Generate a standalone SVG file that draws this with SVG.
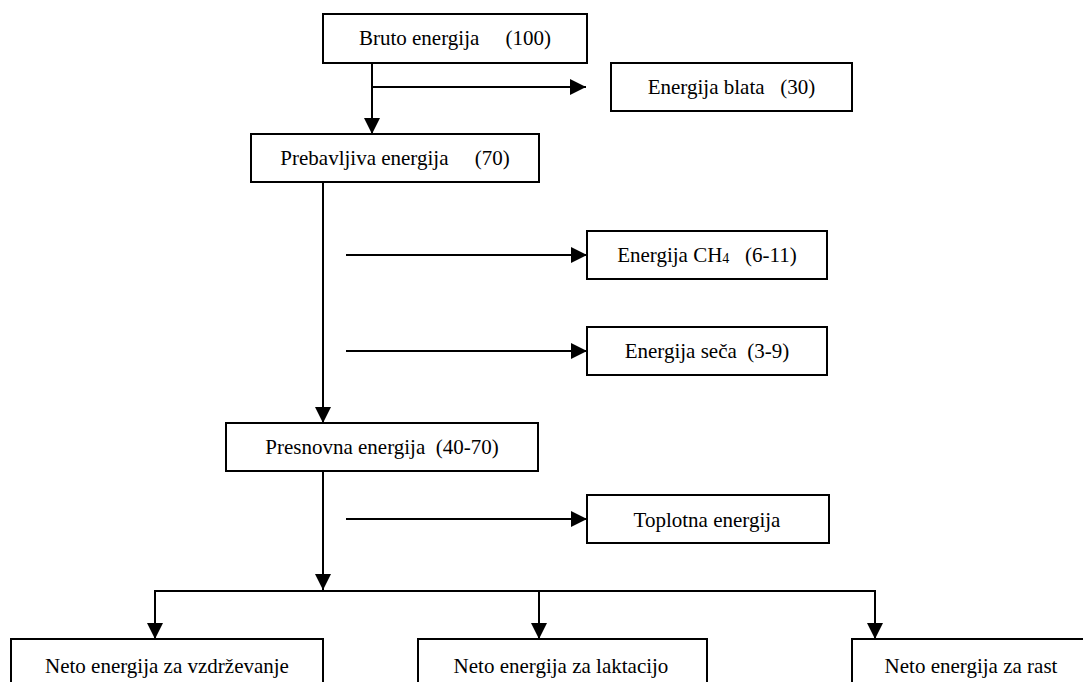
<svg xmlns="http://www.w3.org/2000/svg" width="1083" height="682" viewBox="0 0 1083 682">
<style>
.box{fill:#fff;stroke:#000;stroke-width:2}
.lbl{font-family:"Liberation Serif","Times New Roman",serif;font-size:21px;fill:#000;text-anchor:middle;white-space:pre}
.ln{fill:none;stroke:#000;stroke-width:2}
</style>
<defs>
<marker id="ah" markerUnits="userSpaceOnUse" markerWidth="16" markerHeight="16" refX="16" refY="8" orient="auto">
<path d="M0,0 L16,8 L0,16 z" fill="#000"/>
</marker>
</defs>
<rect width="1083" height="682" fill="#fff"/>
<g id="connectors">
<path class="ln" d="M372,63 V134" marker-end="url(#ah)"/>
<path class="ln" d="M372,87 H586" marker-end="url(#ah)"/>
<path class="ln" d="M323,182 V423" marker-end="url(#ah)"/>
<path class="ln" d="M346,255 H587" marker-end="url(#ah)"/>
<path class="ln" d="M346,351 H587" marker-end="url(#ah)"/>
<path class="ln" d="M323,471 V590" marker-end="url(#ah)"/>
<path class="ln" d="M346,519 H587" marker-end="url(#ah)"/>
<path class="ln" d="M155,639 V591 H875 V639" marker-end="url(#ah)"/>
<path class="ln" d="M155,591 V639" marker-end="url(#ah)"/>
<path class="ln" d="M539,591 V639" marker-end="url(#ah)"/>
</g>
<g id="bruto">
<rect class="box" x="323" y="14" width="264" height="49"/>
<text class="lbl" x="455" y="45">Bruto energija     (100)</text>
</g>
<g id="blato">
<rect class="box" x="611" y="63" width="241" height="48"/>
<text class="lbl" x="731.5" y="94">Energija blata   (30)</text>
</g>
<g id="prebavljiva">
<rect class="box" x="251" y="134" width="288" height="48"/>
<text class="lbl" x="395" y="165">Prebavljiva energija     (70)</text>
</g>
<g id="ch4">
<rect class="box" x="587" y="231" width="240" height="48"/>
<text class="lbl" x="707" y="262">Energija CH<tspan font-size="14" dy="1">4</tspan><tspan dy="-1">   (6-11)</tspan></text>
</g>
<g id="seca">
<rect class="box" x="587" y="327" width="240" height="48"/>
<text class="lbl" x="707" y="358">Energija seča  (3-9)</text>
</g>
<g id="presnovna">
<rect class="box" x="226" y="423" width="312" height="48"/>
<text class="lbl" x="382" y="454">Presnovna energija  (40-70)</text>
</g>
<g id="toplotna">
<rect class="box" x="587" y="495" width="242" height="48"/>
<text class="lbl" x="707" y="527">Toplotna energija</text>
</g>
<g id="vzdrzevanje">
<rect class="box" x="11" y="639" width="312" height="60"/>
<text class="lbl" x="167" y="673">Neto energija za vzdrževanje</text>
</g>
<g id="laktacija">
<rect class="box" x="418" y="639" width="289" height="60"/>
<text class="lbl" x="561" y="673">Neto energija za laktacijo</text>
</g>
<g id="rast">
<rect class="box" x="852" y="639" width="240" height="60"/>
<text class="lbl" x="971" y="673">Neto energija za rast</text>
</g>
</svg>
